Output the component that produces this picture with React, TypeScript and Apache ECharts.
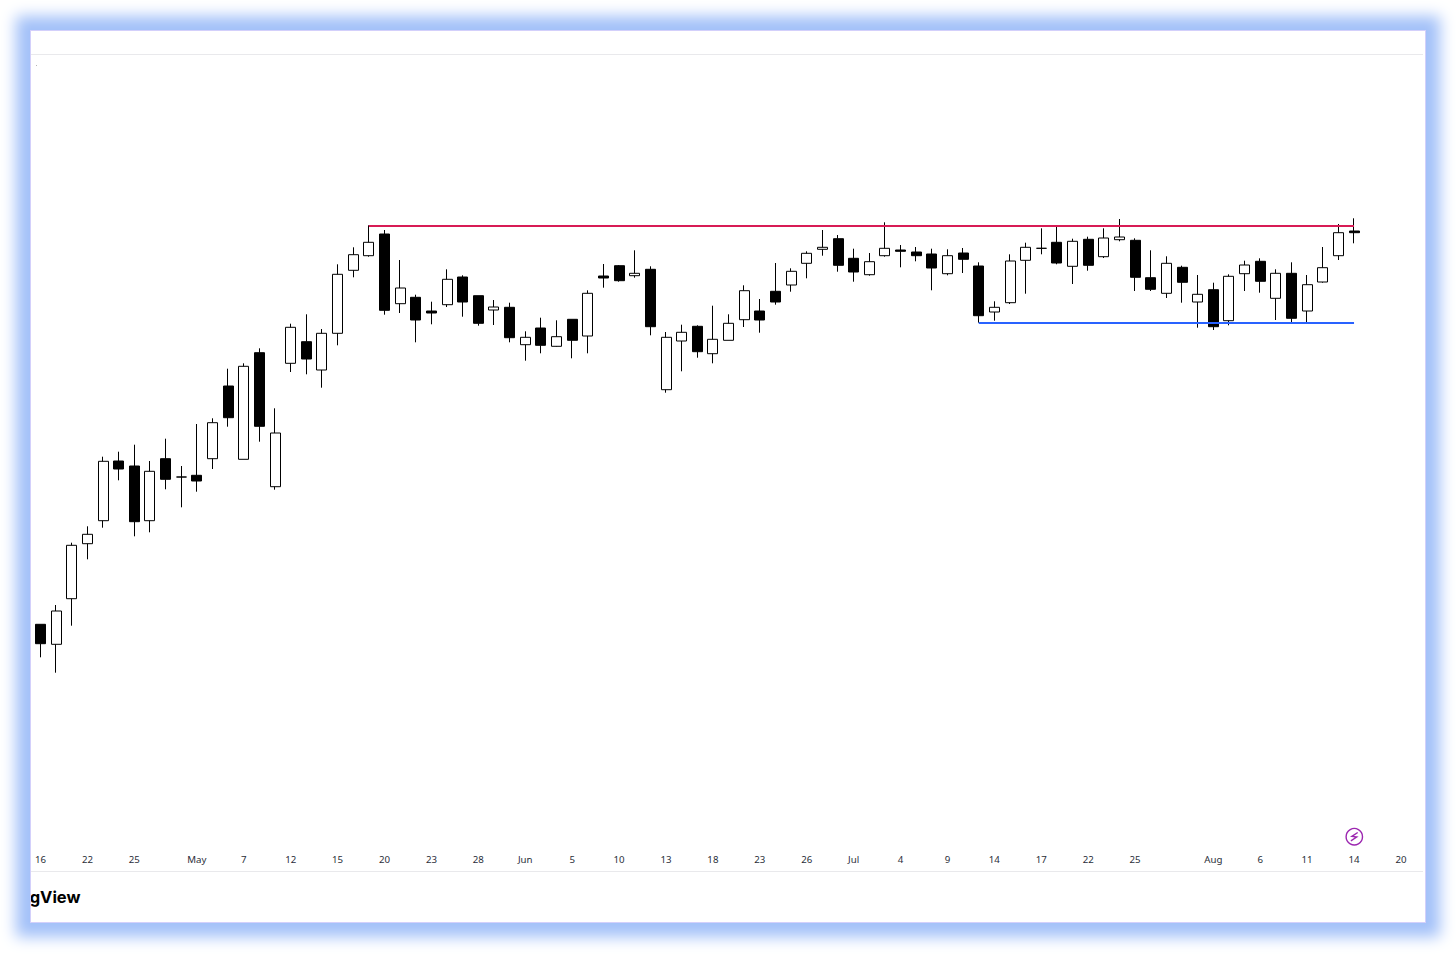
import React, { useEffect, useRef } from "react";
import * as echarts from "echarts";

const opens = [75.7,55.7,101.3,156.3,179.3,239,234,179.3,241.3,223,224.7,241.3,314,240.7,347.3,213.3,336.7,358.3,330,366.7,429.7,444.3,466,396.3,402.7,389,395.3,423,404.3,390,392.7,355.3,372,353.7,380.7,364,424,434.3,424.3,430.7,310.3,359,373.7,346.3,359.7,380.3,389,408.7,415,436.7,450.7,461.3,441.7,425.3,444.3,450,448,446,426.3,447,434,388,397.3,439.7,451.7,457.7,433.7,460.7,443.3,460.3,459.7,422.3,406.7,432.7,398,410.3,379.3,426.3,438.7,401.7,426.7,389,418,444.3,469];
const closes = [56.3,89,154.7,165.7,238.7,231,178.3,228.7,220.7,223,219,277.3,282.3,333.7,273.7,267,372.7,341,366.7,425.7,445.3,457.7,389.7,412,380,387,420.7,398,376.7,393,362.3,362.7,354.7,363.3,359.7,406.7,422,419.3,426.7,373.3,362.7,367.7,348.3,360.7,376.7,409.3,380,398,428.7,446.7,452.7,434.7,428,438.3,451.7,448.7,444.3,432,444.3,440.7,384.3,392.7,439,452.7,451.7,437,458.7,434.7,462,463,422.7,410.7,436.7,417.7,405.7,373.3,423.7,435,418.7,426.7,381.7,415.3,432.3,467.3,467.3];
const lows = [42.7,27.3,74.3,140.7,172.3,219.7,163.7,167.7,210.7,192.7,208.3,231,273.3,240.7,258.3,210.3,328,325.7,312.3,354.7,422.7,443.3,385.3,387,357.7,375.7,393,383.3,374.3,375,357.7,339.3,346.7,353.3,341.7,346.7,412.3,418.3,422.3,364.7,307.3,328.7,342.3,336.7,359.7,373,367.3,395.3,408.3,421.7,444.3,428.3,418.3,424.3,443.3,432.7,438.7,409.7,424.7,427,377.3,379.3,396,406.3,445.7,435.7,416,429.3,442,458.7,409,409,402,397.3,372.3,370,374.7,409,407.3,380,378,378,417.3,440,456.7];
const highs = [75.7,95,157.3,173.7,243.3,248.3,255.3,239,261.3,234,276,281.7,331.3,336.7,351.7,291.7,376.3,385.7,371,435.7,452.7,474.7,470,440,405.3,398.3,430.7,424.7,404.3,400,397.3,368.7,382.3,379.7,380.7,409.7,436,435,449.7,433.7,368,375.3,374.7,394.3,385.7,414.7,401,437,431.7,448.7,470,465,451.3,447,477.7,455,453,451.3,450.7,452,437.7,398.7,445.7,457.3,471.7,475,461.3,463.3,471.7,481,461.7,449.7,443.7,434.3,425,417.3,425.7,439.3,441.7,430.7,437.7,425,453,476,481.7];

const tickIndexes = [0,3,6,10,13,16,19,22,25,28,31,34,37,40,43,46,49,52,55,58,61,64,67,70,75,78,81,84,87];
const tickLabels = ["16","22","25","May","7","12","15","20","23","28","Jun","5","10","13","18","23","26","Jul","4","9","14","17","22","25","Aug","6","11","14","20"];
const barCount = 89;

const resistanceLevel = 474.3;
const resistanceFrom = 21;
const supportLevel = 377;
const supportFrom = 60;
const levelsTo = 84;

const categories: string[] = Array.from({ length: barCount }, (_, i) => {
  const k = tickIndexes.indexOf(i);
  return k >= 0 ? tickLabels[k] : "";
});
const candles = opens.map((o, i) => [o, closes[i], lows[i], highs[i]]);

echarts.graphic.registerShape(
  "bolt",
  echarts.graphic.extendPath("M3.4 -4.2 L-2.4 -0.3 L2.4 0.3 L-3.4 4.2", {})
);

export default function App() {
  const ref = useRef<HTMLDivElement>(null);
  useEffect(() => {
    const chart = echarts.init(ref.current!, undefined, { renderer: "svg" });
    chart.setOption({
      animation: false,
      backgroundColor: "#ffffff",
      grid: { left: 1.7, top: 23, width: 1391.7, height: 796, containLabel: false },
      xAxis: {
        type: "category",
        data: categories,
        boundaryGap: true,
        axisLine: { show: false },
        axisTick: { show: false },
        splitLine: { show: false },
        axisLabel: {
          interval: (_: number, value: string) => value !== "",
          hideOverlap: false,
          margin: 4,
          fontSize: 9.7,
          fontFamily: "Noto Sans",
          color: "#2a2e39",
        },
      },
      yAxis: {
        type: "value",
        min: -150,
        max: 646,
        show: false,
        splitLine: { show: false },
      },
      series: [
        {
          type: "candlestick",
          data: candles,
          barWidth: 10.5,
          clip: false,
          itemStyle: {
            color: "#ffffff",
            color0: "#000000",
            borderColor: "#000000",
            borderColor0: "#000000",
            borderColorDoji: "#000000",
            borderWidth: 1,
          },
          markLine: {
            silent: true,
            symbol: "none",
            animation: false,
            label: { show: false },
            data: [
              [
                { coord: [resistanceFrom, resistanceLevel], lineStyle: { color: "#d81b55", width: 2, type: "solid" } },
                { coord: [levelsTo, resistanceLevel] },
              ],
              [
                { coord: [supportFrom, supportLevel], lineStyle: { color: "#2962ff", width: 2, type: "solid" } },
                { coord: [levelsTo, supportLevel] },
              ],
            ],
          },
        },
      ],
      graphic: [
        { type: "line", shape: { x1: 0, y1: 23.5, x2: 1392, y2: 23.5 }, style: { stroke: "#e9e9ec", lineWidth: 1 }, silent: true },
        { type: "line", shape: { x1: 0, y1: 840.5, x2: 1392, y2: 840.5 }, style: { stroke: "#e9e9ec", lineWidth: 1 }, silent: true },
        { type: "rect", shape: { x: 5, y: 34, width: 1, height: 1 }, style: { fill: "#b5b5b5" }, silent: true },
        {
          type: "text",
          x: 49.5,
          y: 866,
          style: {
            text: "gView",
            fill: "#000000",
            fontFamily: "Inter",
            fontWeight: 700,
            fontSize: 16.5,
            textAlign: "right",
            textVerticalAlign: "middle",
          },
          silent: true,
        },
        {
          type: "circle",
          shape: { cx: 1323.3, cy: 805.7, r: 8.2 },
          style: { fill: "none", stroke: "#9c27b0", lineWidth: 1.4 },
          silent: true,
        },
        {
          type: "bolt",
          x: 1323.3,
          y: 805.7,
          style: { fill: "none", stroke: "#9c27b0", lineWidth: 1.4 },
          silent: true,
        },
      ],
    });
    return () => chart.dispose();
  }, []);

  return (
    <div style={{ position: "absolute", left: 0, top: 0, width: 1456, height: 954, background: "#ffffff", overflow: "hidden" }}>
      <div
        style={{
          position: "absolute",
          left: 31,
          top: 31,
          width: 1394,
          height: 891,
          boxShadow: "0 0 0 1px #d3d0fb, 0 0 14px 15px #a3c1f9",
          background: "#ffffff",
        }}
      >
        <div ref={ref} style={{ width: 1394, height: 891, overflow: "hidden" }} />
      </div>
    </div>
  );
}
